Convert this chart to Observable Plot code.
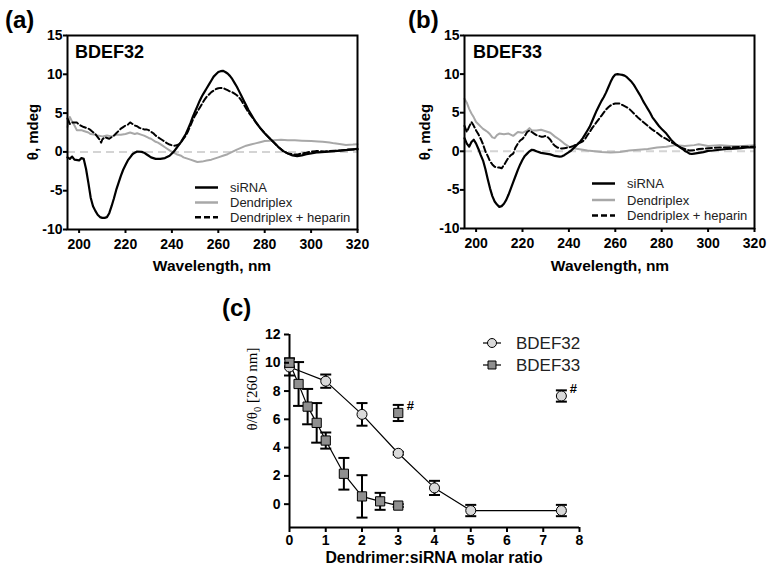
<!DOCTYPE html>
<html><head><meta charset="utf-8">
<script src="https://cdn.jsdelivr.net/npm/d3@7"></script>
<script src="https://cdn.jsdelivr.net/npm/@observablehq/plot@0.6"></script>
<style>
body{margin:0;background:#fff;}
#root{position:relative;width:773px;height:577px;overflow:hidden;background:#fff;font-family:'Liberation Sans',Arial,sans-serif;}
.panel{position:absolute;}
#overlay{position:absolute;left:0;top:0;pointer-events:none;}
</style></head><body><div id="root"></div>
<script>
// ---------- Panel (a) BDEF32 : CD spectra [wavelength nm, theta mdeg] ----------
const aSiRNA = [[195,-0.7],[196,-0.9],[197,-0.6],[198,-1.0],[200,-1.1],[201,-0.8],[202,-0.9],[203,-2.2],[204,-4.0],[205,-5.9],[206,-7.0],[207,-7.6],[208,-8.1],[209,-8.4],[210,-8.5],[211,-8.5],[212,-8.4],[213,-7.9],[214,-7.0],[215,-6.0],[216,-4.9],[217,-4.0],[218,-3.1],[219,-2.3],[220,-1.7],[221,-1.1],[222,-0.7],[223,-0.3],[224,-0.1],[225,0.05],[227,0.0],[228,-0.1],[229,-0.3],[230,-0.5],[231,-0.7],[233,-0.9],[235,-0.9],[237,-0.8],[239,-0.5],[240,-0.2],[241,0.1],[242,0.5],[243,0.9],[244,1.3],[245,1.8],[246,2.3],[247,3.0],[248,3.7],[249,4.5],[250,5.2],[251,5.9],[252,6.6],[253,7.2],[254,7.7],[255,8.2],[256,8.7],[257,9.2],[258,9.7],[259,10.0],[260,10.3],[261,10.4],[262,10.45],[263,10.3],[264,10.1],[265,9.8],[266,9.4],[267,8.9],[268,8.4],[269,7.8],[270,7.2],[271,6.6],[272,6.0],[273,5.4],[274,4.9],[275,4.4],[276,3.9],[277,3.5],[278,3.1],[280,2.4],[282,1.8],[284,1.2],[286,0.6],[288,0.1],[290,-0.2],[292,-0.45],[294,-0.55],[296,-0.45],[298,-0.3],[300,-0.2],[303,-0.05],[306,0.0],[310,0.1],[314,0.2],[317,0.3],[320,0.4]];
const aDendriplex = [[195,3.2],[196,4.5],[197,3.9],[198,3.4],[199,2.8],[201,2.8],[202,2.7],[204,2.5],[205,2.3],[207,2.2],[208,2.1],[210,2.0],[212,2.1],[214,2.0],[216,2.2],[218,2.2],[220,2.3],[222,2.5],[224,2.3],[225,2.4],[227,2.2],[228,2.1],[230,1.8],[231,1.7],[233,1.3],[234,1.2],[236,0.8],[237,0.6],[239,0.2],[240,0.0],[242,-0.3],[244,-0.5],[245,-0.7],[247,-0.9],[248,-1.0],[250,-1.2],[251,-1.3],[253,-1.25],[255,-1.1],[257,-1.0],[258,-0.9],[260,-0.7],[262,-0.5],[264,-0.3],[266,0.0],[268,0.3],[270,0.55],[272,0.8],[274,0.95],[276,1.1],[278,1.25],[280,1.4],[282,1.45],[284,1.5],[287,1.55],[290,1.5],[293,1.5],[296,1.45],[300,1.4],[303,1.35],[305,1.3],[308,1.2],[310,1.1],[313,1.0],[315,0.9],[318,0.95],[320,1.0]];
const aHeparin = [[195,4.3],[196,3.6],[197,3.8],[199,3.8],[200,3.5],[202,3.2],[204,3.0],[205,2.8],[207,2.3],[208,1.9],[209,1.5],[209.5,1.2],[210,1.6],[211,1.9],[212,1.8],[213,1.7],[214,1.9],[215,2.1],[216,2.4],[217,2.7],[218,3.0],[219,3.2],[220,3.4],[221,3.5],[222,3.8],[223,3.6],[224,3.4],[225,3.3],[226,3.1],[227,3.0],[228,2.9],[229,2.9],[230,2.8],[231,2.6],[232,2.4],[233,2.1],[234,1.9],[235,1.7],[236,1.5],[237,1.3],[238,1.1],[239,0.95],[240,0.85],[241,0.8],[242,0.85],[243,0.95],[244,1.3],[245,1.7],[246,2.1],[247,2.7],[248,3.4],[249,4.1],[250,4.7],[251,5.2],[252,5.7],[253,6.2],[254,6.7],[255,7.1],[256,7.4],[257,7.7],[258,7.9],[259,8.1],[260,8.2],[261,8.25],[262,8.25],[263,8.1],[264,7.95],[265,7.8],[266,7.7],[267,7.5],[268,7.3],[269,7.0],[270,6.6],[271,6.1],[272,5.6],[273,5.1],[274,4.7],[275,4.3],[276,3.9],[277,3.5],[278,3.1],[280,2.4],[282,1.8],[284,1.2],[286,0.6],[288,0.1],[290,-0.2],[292,-0.3],[294,-0.35],[296,-0.2],[298,-0.1],[300,0.05],[302,0.1],[304,0.1],[306,0.05],[308,0.1],[310,0.15],[313,0.2],[316,0.3],[320,0.3]];

// ---------- Panel (b) BDEF33 ----------
const bSiRNA = [[195,1.7],[196,1.0],[197,0.6],[198,1.2],[199,1.5],[200,1.0],[201,0.3],[202,-0.5],[203,-1.2],[204,-2.3],[205,-3.6],[206,-4.8],[207,-5.8],[208,-6.5],[209,-6.9],[210,-7.2],[211,-7.1],[212,-6.8],[213,-6.3],[214,-5.6],[215,-4.8],[216,-4.0],[217,-3.2],[218,-2.4],[219,-1.7],[220,-1.1],[221,-0.6],[222,-0.3],[223,0.0],[224,0.2],[225,0.15],[226,0.0],[228,-0.2],[230,-0.3],[232,-0.4],[234,-0.6],[236,-0.7],[237,-0.65],[238,-0.5],[239,-0.3],[240,-0.1],[241,0.1],[242,0.4],[243,0.7],[244,1.0],[245,1.3],[246,1.7],[247,2.2],[248,2.7],[249,3.2],[250,3.9],[251,4.6],[252,5.3],[253,5.9],[254,6.5],[255,7.0],[256,7.6],[257,8.3],[258,9.0],[259,9.6],[260,9.95],[261,10.0],[262,9.95],[263,9.9],[264,9.8],[265,9.6],[266,9.3],[267,9.0],[268,8.6],[269,8.1],[270,7.6],[271,7.1],[272,6.5],[273,6.0],[274,5.5],[275,5.0],[276,4.4],[277,4.0],[278,3.6],[279,3.2],[280,2.9],[281,2.6],[282,2.3],[283,1.9],[284,1.5],[285,1.2],[286,0.9],[287,0.7],[288,0.5],[289,0.3],[290,0.05],[291,-0.1],[292,-0.3],[293,-0.35],[294,-0.3],[296,-0.2],[298,-0.1],[300,0.05],[302,0.1],[305,0.2],[308,0.3],[311,0.35],[314,0.4],[317,0.5],[320,0.5]];
const bDendriplex = [[195,6.8],[196,6.3],[197,5.5],[198,4.9],[199,4.4],[200,3.8],[201,3.5],[202,3.2],[203,2.9],[204,2.7],[205,2.5],[206,2.2],[207,1.8],[208,1.7],[209,2.1],[210,2.3],[212,2.2],[214,2.3],[216,2.0],[218,2.5],[220,2.4],[222,2.7],[223,3.0],[224,2.7],[226,2.7],[228,2.8],[230,2.6],[232,2.4],[234,1.9],[236,1.5],[238,1.0],[240,0.6],[242,0.4],[244,0.3],[246,0.2],[248,0.1],[250,0.05],[254,-0.1],[258,-0.15],[262,-0.1],[266,0.1],[270,0.2],[274,0.3],[278,0.5],[282,0.6],[286,0.8],[290,0.7],[294,0.8],[296,0.9],[300,0.7],[305,0.8],[310,0.7],[315,0.7],[320,0.8]];
const bHeparin = [[195,3.3],[196,2.5],[197,3.2],[198,3.8],[199,3.3],[200,2.7],[201,2.2],[202,1.6],[203,0.9],[204,0.0],[205,-0.6],[206,-1.3],[207,-1.7],[208,-2.0],[209,-2.1],[210,-2.1],[211,-2.2],[212,-1.8],[213,-1.3],[214,-0.8],[215,-0.5],[216,-0.3],[217,0.5],[218,1.0],[219,1.4],[220,1.6],[221,2.0],[222,2.5],[223,2.7],[224,2.5],[225,2.3],[226,2.1],[227,2.0],[228,1.9],[229,1.9],[230,2.0],[231,1.8],[232,1.5],[233,1.0],[234,0.7],[235,0.5],[236,0.4],[237,0.35],[238,0.4],[240,0.5],[242,0.7],[244,1.0],[246,1.3],[247,1.6],[248,2.1],[249,2.5],[250,3.0],[251,3.4],[252,3.8],[253,4.2],[254,4.6],[255,5.0],[256,5.4],[257,5.7],[258,5.95],[259,6.1],[260,6.2],[261,6.2],[262,6.2],[263,6.0],[264,5.85],[265,5.7],[266,5.5],[267,5.2],[268,4.9],[269,4.6],[270,4.3],[272,3.8],[274,3.3],[276,2.8],[278,2.4],[280,1.9],[282,1.6],[284,1.2],[286,0.9],[288,0.5],[290,0.3],[292,0.1],[294,0.15],[296,0.3],[300,0.4],[305,0.5],[310,0.5],[315,0.6],[320,0.6]];

const spectraXTicks = [200, 220, 240, 260, 280, 300, 320];
const spectraYTicks = [-10, -5, 0, 5, 10, 15];
const spectraLegend = ["siRNA", "Dendriplex", "Dendriplex + heparin"];

// ---------- Panel (c) theta/theta0 at 260 nm ----------
const ratio32 = [0, 1, 2, 3, 4, 5, 7.5];
const mean32  = [9.7, 8.7, 6.35, 3.6, 1.15, -0.45, -0.45];
const sd32    = [0.6, 0.47, 0.8, 0.1, 0.5, 0.4, 0.4];
const ratio33 = [0, 0.25, 0.5, 0.75, 1, 1.5, 2, 2.5, 3];
const mean33  = [10.0, 8.5, 6.9, 5.75, 4.5, 2.15, 0.55, 0.2, -0.1];
const sd33    = [0.3, 1.55, 1.25, 1.4, 0.57, 1.12, 1.5, 0.6, 0.1];
const heparinRatio = [7.5, 3];        // BDEF32, BDEF33 (+ heparin, "#")
const heparinMean  = [7.65, 6.45];
const heparinSd    = [0.4, 0.57];
const heparinSeries = ["BDEF32", "BDEF33"];
const cXTicks = [0, 1, 2, 3, 4, 5, 6, 7, 8];
const cYTicks = [0, 2, 4, 6, 8, 10, 12];
const cSeries = ["BDEF32", "BDEF33"];

// ---------- drawing ----------
const FONT = "'Liberation Sans', Arial, Helvetica, sans-serif";
const root = document.getElementById("root");
function place(el, left, top) {
  const d = document.createElement("div");
  d.className = "panel"; d.style.left = left + "px"; d.style.top = top + "px";
  d.appendChild(el); root.appendChild(d);
}
const px = d => d[0], py = d => d[1];

function spectrum(siRNA, dendriplex, heparin, w, h, m) {
  return Plot.plot({
    width: w, height: h,
    marginLeft: m[0], marginRight: m[1], marginTop: m[2], marginBottom: m[3],
    x: {domain: [195, 320]},
    y: {domain: [-10, 15]},
    style: {fontFamily: FONT, fontSize: "14px", fontWeight: "bold", color: "black", background: "white", overflow: "visible"},
    marks: [
      Plot.ruleY([0], {stroke: "#d4d4d4", strokeWidth: 2, strokeDasharray: "8,5"}),
      Plot.line(dendriplex, {x: px, y: py, stroke: "#a8a8a8", strokeWidth: 2}),
      Plot.line(heparin, {x: px, y: py, stroke: "black", strokeWidth: 2, strokeDasharray: "6,3"}),
      Plot.line(siRNA, {x: px, y: py, stroke: "black", strokeWidth: 2.2}),
      Plot.frame({stroke: "black", strokeWidth: 2}),
      Plot.axisX({ticks: spectraXTicks, tickSize: 4, tickPadding: 6, strokeWidth: 2, label: null, tickFormat: d => String(d)}),
      Plot.axisY({ticks: spectraYTicks, tickSize: 4, tickPadding: 1, strokeWidth: 2, label: null, tickFormat: d => String(d)})
    ]
  });
}

place(spectrum(aSiRNA, aDendriplex, aHeparin, 386, 290, [67, 29, 35, 61]), 0, 0);
place(spectrum(bSiRNA, bDendriplex, bHeparin, 387, 290, [78, 19, 35, 62]), 386, 0);

// panel (c)
const rows32 = ratio32.map((x, i) => ({x, y: mean32[i], sd: sd32[i]}));
const rows33 = ratio33.map((x, i) => ({x, y: mean33[i], sd: sd33[i]}));
const rowsHep = heparinRatio.map((x, i) => ({x, y: heparinMean[i], sd: heparinSd[i], s: heparinSeries[i]}));
const hep32 = rowsHep.filter(d => d.s === "BDEF32");
const hep33 = rowsHep.filter(d => d.s === "BDEF33");
const cYDomain = [-1.65, 12];
const capSymbol = {draw(ctx, size) { const r = Math.sqrt(size / Math.PI); ctx.moveTo(-r, 0); ctx.lineTo(r, 0); }};
const errMarks = rows => [
  Plot.ruleX(rows, {x: "x", y1: d => d.y - d.sd, y2: d => d.y + d.sd, stroke: "black", strokeWidth: 2}),
  Plot.dot(rows, {x: "x", y: d => d.y - d.sd, symbol: capSymbol, r: 5.5, fill: "none", stroke: "black", strokeWidth: 2}),
  Plot.dot(rows, {x: "x", y: d => d.y + d.sd, symbol: capSymbol, r: 5.5, fill: "none", stroke: "black", strokeWidth: 2})
];
const fill32 = "#d9d9d9", fill33 = "#8f8f8f";
const chartC = Plot.plot({
  width: 553, height: 287,
  marginLeft: 69, marginRight: 194, marginTop: 44, marginBottom: 50,
  x: {domain: [0, 8]},
  y: {domain: cYDomain},
  style: {fontFamily: FONT, fontSize: "14px", fontWeight: "bold", color: "black", background: "white", overflow: "visible"},
  marks: [
    Plot.ruleX([0], {stroke: "black", strokeWidth: 2}),
    Plot.ruleY([cYDomain[0]], {stroke: "black", strokeWidth: 2}),
    Plot.line(rows32, {x: "x", y: "y", stroke: "black", strokeWidth: 1.2}),
    Plot.line(rows33, {x: "x", y: "y", stroke: "black", strokeWidth: 1.2}),
    ...errMarks(rows32), ...errMarks(rows33), ...errMarks(rowsHep),
    Plot.dot(rows32, {x: "x", y: "y", r: 5, symbol: "circle", fill: fill32, stroke: "black", strokeWidth: 1}),
    Plot.dot(rows33, {x: "x", y: "y", r: 5.2, symbol: "square", fill: fill33, stroke: "black", strokeWidth: 1}),
    Plot.dot(hep32, {x: "x", y: "y", r: 5, symbol: "circle", fill: fill32, stroke: "black", strokeWidth: 1}),
    Plot.dot(hep33, {x: "x", y: "y", r: 5.2, symbol: "square", fill: fill33, stroke: "black", strokeWidth: 1}),
    Plot.text(rowsHep, {x: "x", y: "y", text: () => "#", dx: 12, dy: -7, fontSize: 13, fontWeight: "bold", textAnchor: "middle"}),
    Plot.axisX({ticks: cXTicks, tickSize: 5, tickPadding: 3, strokeWidth: 2, label: null, tickFormat: d => String(d)}),
    Plot.axisY({ticks: cYTicks, tickSize: 5, tickPadding: 4, strokeWidth: 2, label: null, tickFormat: d => String(d)})
  ]
});
place(chartC, 220, 290);

// ---------- overlay: panel letters, titles, axis titles, legends ----------
const ov = d3.select(root).append("svg").attr("id", "overlay").attr("width", 773).attr("height", 577)
  .style("font-family", FONT);
const txt = (x, y, s, size, weight, anchor = "start", fill = "black") =>
  ov.append("text").attr("x", x).attr("y", y).attr("font-size", size).attr("font-weight", weight)
    .attr("text-anchor", anchor).attr("fill", fill).text(s);

txt(5, 28, "(a)", 24, "bold");
txt(408, 28, "(b)", 24, "bold");
txt(222, 316, "(c)", 24, "bold");
txt(75, 58, "BDEF32", 18, "bold");
txt(473, 58, "BDEF33", 18, "bold");
txt(212, 271, "Wavelength, nm", 15.5, "bold", "middle");
txt(610, 271, "Wavelength, nm", 15.5, "bold", "middle");
txt(434, 563, "Dendrimer:siRNA molar ratio", 15.8, "bold", "middle");

ov.append("text").attr("transform", "translate(38,132) rotate(-90)").attr("text-anchor", "middle")
  .attr("font-size", 15).attr("font-weight", "bold").text("θ, mdeg");
ov.append("text").attr("transform", "translate(430,132) rotate(-90)").attr("text-anchor", "middle")
  .attr("font-size", 15).attr("font-weight", "bold").text("θ, mdeg");
const yl = ov.append("text").attr("transform", "translate(257,389) rotate(-90)").attr("text-anchor", "middle")
  .attr("font-family", "'Liberation Serif', 'Times New Roman', serif").attr("font-size", 15);
yl.append("tspan").text("θ/θ");
yl.append("tspan").attr("font-size", 10.5).attr("dy", 4).text("0");
yl.append("tspan").attr("dy", -4).text(" [260 nm]");

// spectra legends
const legendStyles = [{stroke: "black", dash: null}, {stroke: "#a8a8a8", dash: null}, {stroke: "black", dash: "6,3"}];
function spectraLegendAt(x0, rowsY) {
  spectraLegend.forEach((label, i) => {
    const st = legendStyles[i];
    const ln = ov.append("line").attr("x1", x0).attr("x2", x0 + 23).attr("y1", rowsY[i]).attr("y2", rowsY[i])
      .attr("stroke", st.stroke).attr("stroke-width", 2.5);
    if (st.dash) ln.attr("stroke-dasharray", st.dash);
    txt(x0 + 35, rowsY[i] + 4.5, label, 13, "normal", "start", "#222");
  });
}
spectraLegendAt(195, [187.5, 202.5, 217.3]);
spectraLegendAt(592, [183.5, 200, 215.5]);

// panel (c) legend
const cSym = [d3.symbolCircle, d3.symbolSquare];
const cFill = [fill32, fill33];
const cR = [4.5, 4.5];
cSeries.forEach((label, i) => {
  const y = 343 + i * 22;
  ov.append("line").attr("x1", 483).attr("x2", 501).attr("y1", y).attr("y2", y).attr("stroke", "black").attr("stroke-width", 1.2);
  ov.append("path").attr("d", d3.symbol(cSym[i], cR[i] * cR[i] * Math.PI)()).attr("transform", `translate(492,${y})`)
    .attr("fill", cFill[i]).attr("stroke", "black").attr("stroke-width", 1);
  txt(516, y + 6, label, 17, "normal", "start", "#222");
});
</script></body></html>
